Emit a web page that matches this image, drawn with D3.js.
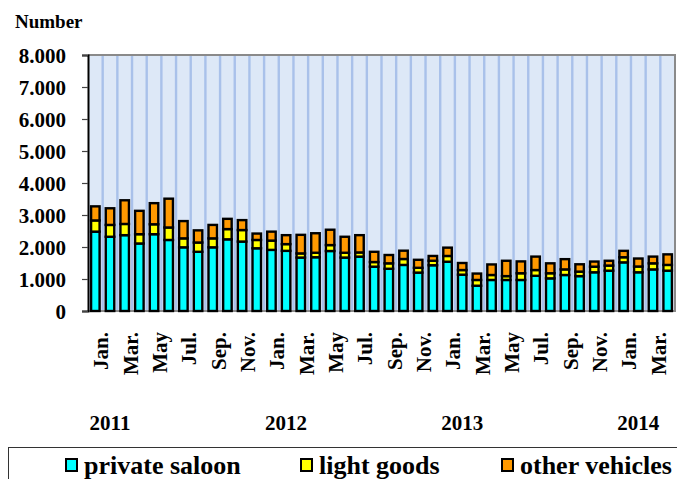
<!DOCTYPE html>
<html>
<head>
<meta charset="utf-8">
<script src="https://cdn.jsdelivr.net/npm/d3@7"></script>
<style>
  html, body { margin: 0; padding: 0; background: #fff; }
  svg { display: block; }
  text { font-family: "Liberation Serif", "Times New Roman", serif; font-weight: bold; fill: #000; }
</style>
</head>
<body>
<svg id="chart" width="677" height="479"></svg>
<script>
// ---------- DATA ----------
const months = [
  "2011-01","2011-02","2011-03","2011-04","2011-05","2011-06","2011-07","2011-08","2011-09","2011-10","2011-11","2011-12",
  "2012-01","2012-02","2012-03","2012-04","2012-05","2012-06","2012-07","2012-08","2012-09","2012-10","2012-11","2012-12",
  "2013-01","2013-02","2013-03","2013-04","2013-05","2013-06","2013-07","2013-08","2013-09","2013-10","2013-11","2013-12",
  "2014-01","2014-02","2014-03","2014-04"
];
const privateSaloon = [2480,2320,2370,2110,2400,2220,1990,1850,1990,2240,2170,1960,
                       1910,1880,1670,1680,1875,1670,1700,1385,1320,1440,1200,1430,
                       1540,1135,790,970,970,970,1100,1020,1125,1090,1210,1260,
                       1520,1210,1300,1260];
const lightGoods = [350,370,350,290,310,390,280,290,280,320,360,260,
                    290,210,130,140,185,150,130,145,170,185,150,140,
                    180,145,180,155,120,210,180,160,175,140,175,160,
                    160,180,190,180];
const otherVehicles = [440,520,740,730,660,900,540,380,420,320,310,200,
                       280,280,580,610,480,500,540,320,260,260,250,150,
                       260,220,200,330,480,370,420,310,320,230,160,150,
                       200,250,210,330];
const seriesNames = ["private saloon","light goods","other vehicles"];
const seriesColors = ["#00ffff","#ffff00","#ff9900"];
const monthTickLabels = {"01":"Jan.","03":"Mar.","05":"May","07":"Jul.","09":"Sep.","11":"Nov."};
const yearLabels = ["2011","2012","2013","2014"];
const yearLabelMonth = ["2011-02","2012-02","2013-02","2014-02"];
const yTicks = [0,1000,2000,3000,4000,5000,6000,7000,8000];
const yAxisTitle = "Number";

// ---------- LAYOUT ----------
const svg = d3.select("#chart");
const plot = {left: 88, right: 675, top: 55, bottom: 311};

const x = d3.scaleBand().domain(months).range([plot.left, plot.right])
  .paddingInner(0.42).paddingOuter(0.21);
const y = d3.scaleLinear().domain([0, 8000]).range([plot.bottom, plot.top]);

const table = months.map((m, i) => ({
  month: m, saloon: privateSaloon[i], light: lightGoods[i], other: otherVehicles[i]
}));
const stack = d3.stack().keys(["saloon","light","other"]);
const stacked = stack(table);

// plot background
svg.append("rect")
  .attr("x", plot.left).attr("y", plot.top)
  .attr("width", plot.right - plot.left).attr("height", plot.bottom - plot.top)
  .attr("fill", "#dde8f7");

// vertical stripes at band boundaries
const step = x.step();
svg.append("g").selectAll("rect").data(months.slice(1)).join("rect")
  .attr("x", (d) => x(d) - (x.step() - x.bandwidth()) / 2 - 1.2)
  .attr("y", plot.top)
  .attr("width", 2.4)
  .attr("height", plot.bottom - plot.top)
  .attr("fill", "#a9c1ea");

// frame (top/right/bottom grey)
svg.append("path")
  .attr("d", `M${plot.left},${plot.top}H${plot.right}V${plot.bottom}H${plot.left}`)
  .attr("fill", "none").attr("stroke", "#8a8a8a").attr("stroke-width", 2);

// bars
const groups = svg.append("g").selectAll("g").data(stacked).join("g")
  .attr("fill", (d, i) => seriesColors[i]);
groups.selectAll("rect").data(d => d).join("rect")
  .attr("x", d => x(d.data.month))
  .attr("width", x.bandwidth())
  .attr("y", d => y(d[1]))
  .attr("height", d => y(d[0]) - y(d[1]))
  .attr("stroke", "#000")
  .attr("stroke-width", 2.4);

// y axis
const locale = d3.formatLocale({decimal: ",", thousands: ".", grouping: [3], currency: ["", ""]});
const fmt = locale.format(",");
const yAxis = d3.axisLeft(y).tickValues(yTicks).tickFormat(fmt).tickSize(6).tickPadding(16);
const gy = svg.append("g").attr("transform", `translate(${plot.left},0)`).call(yAxis);
gy.select(".domain").attr("stroke", "#000").attr("stroke-width", 2);
gy.selectAll(".tick line").attr("stroke", "#444").attr("stroke-width", 1.2);
gy.selectAll(".tick text")
  .style("font-family", "'Liberation Serif', serif")
  .style("font-weight", "bold")
  .style("font-size", "21px")
  .attr("fill", "#000")
  .attr("dy", "0.34em");

// y title
svg.append("text").attr("x", 15).attr("y", 28)
  .style("font-size", "19px").text(yAxisTitle);

// month labels (rotated)
const labeled = months.filter(m => monthTickLabels[m.slice(5)]);
svg.append("g").selectAll("text").data(labeled).join("text")
  .attr("transform", d => `translate(${x(d) + x.bandwidth() / 2 + 5.5},332) rotate(-90)`)
  .attr("text-anchor", "end")
  .attr("dy", "0.35em")
  .style("font-size", "21px")
  .text(d => monthTickLabels[d.slice(5)]);

// year labels
svg.append("g").selectAll("text").data(yearLabels).join("text")
  .attr("x", (d, i) => x(yearLabelMonth[i]) + x.bandwidth() / 2)
  .attr("y", 430)
  .attr("text-anchor", "middle")
  .style("font-size", "21px")
  .text(d => d);

// legend
svg.append("rect").attr("x", 8.5).attr("y", 447.5).attr("width", 700).attr("height", 60)
  .attr("fill", "#fff").attr("stroke", "#333").attr("stroke-width", 1);
const legendX = [65, 300, 501];
const lg = svg.append("g").selectAll("g").data(seriesNames).join("g")
  .attr("transform", (d, i) => `translate(${legendX[i]},459)`);
lg.append("rect").attr("x", 1).attr("y", 0).attr("width", 11).attr("height", 12)
  .attr("fill", (d, i) => seriesColors[i]).attr("stroke", "#000").attr("stroke-width", 2);
lg.append("text").attr("x", 19).attr("y", 14.5)
  .style("font-size", "26px").text(d => d);
</script>
</body>
</html>
